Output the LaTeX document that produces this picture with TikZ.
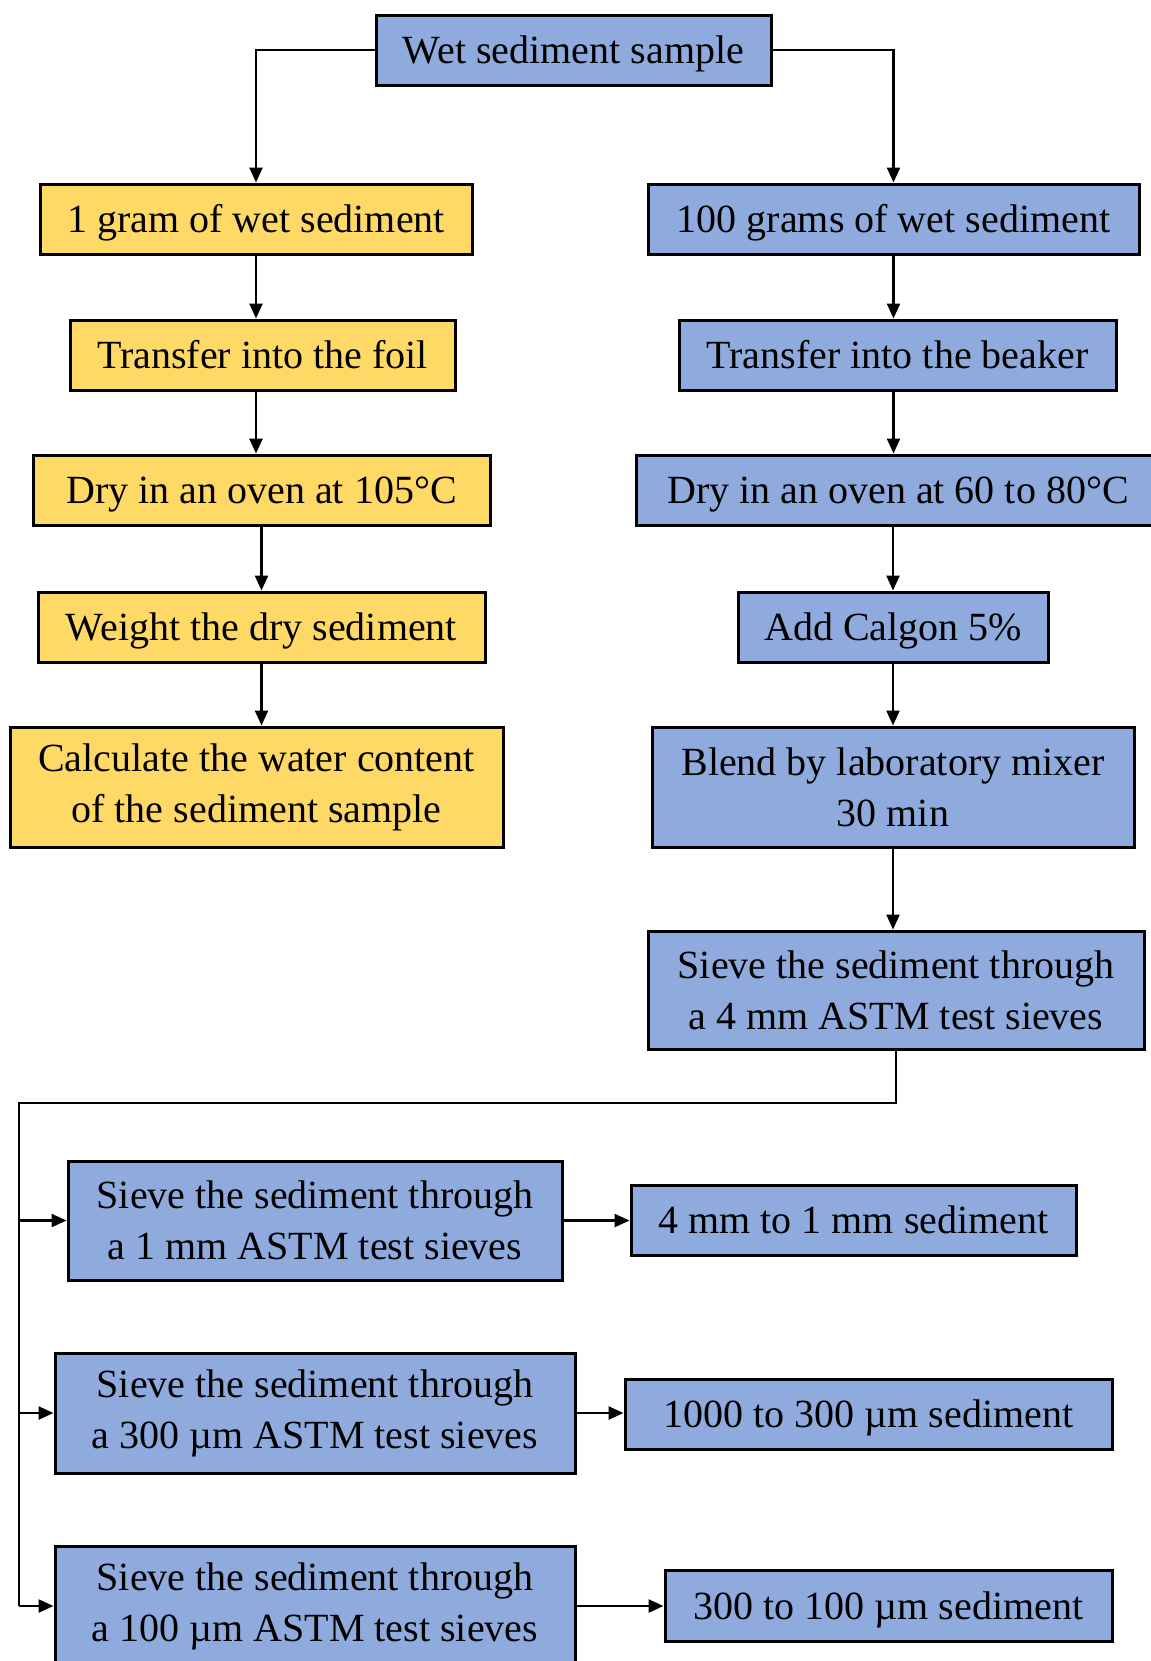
\documentclass[tikz,border=0pt]{standalone}
\usepackage{fontspec}
\setmainfont{Liberation Serif}
\usetikzlibrary{arrows.meta}
\definecolor{boxblue}{RGB}{143,170,220}
\definecolor{boxyellow}{RGB}{255,217,102}
\tikzset{
  stepbox/.style={draw=black, line width=1.5pt, inner sep=0pt, align=center,
    minimum height=35pt, font=\fontsize{20}{25.5}\selectfont},
  oneline/.style={text height=13.5pt, text depth=0pt},
  bluebox/.style={stepbox, fill=boxblue},
  yellowbox/.style={stepbox, fill=boxyellow},
  link/.style={line width=1.2pt},
  arr/.style={link, -{Triangle[length=7.5pt,width=6.5pt]}}
}
\begin{document}
\begin{tikzpicture}[x=0.5pt,y=-0.5pt]
        \useasboundingbox (0,0) rectangle (1151,1661);
        \node[bluebox, oneline, minimum width=197.5pt] (wet) at (573.5,50) {Wet sediment sample};
        % left column
        \node[yellowbox, oneline, minimum width=216pt] (gram1) at (256,219) {1 gram of wet sediment};
        \node[yellowbox, oneline, minimum width=192.5pt] (foil) at (262.5,355) {Transfer into the foil};
        \node[yellowbox, oneline, minimum width=228.5pt] (dry105) at (261.5,490) {Dry in an oven at 105°C};
        \node[yellowbox, oneline, minimum width=223.5pt] (weigh) at (261.5,627) {Weight the dry sediment};
        \node[yellowbox, minimum width=246.5pt, minimum height=60pt] (calc) at (256.5,787) {Calculate the water content\\of the sediment sample};
        % right column
        \node[bluebox, oneline, minimum width=245.5pt] (gram100) at (893.5,219) {100 grams of wet sediment};
        \node[bluebox, oneline, minimum width=218.5pt] (beaker) at (897.5,355) {Transfer into the beaker};
        \node[bluebox, oneline, minimum width=262pt] (dry60) at (898,490) {Dry in an oven at 60 to 80°C};
        \node[bluebox, oneline, minimum width=155pt] (calgon) at (893,627) {Add Calgon 5\%};
        \node[bluebox, minimum width=241pt, minimum height=60pt] (blend) at (893,787) {Blend by laboratory mixer\\30 min};
        \node[bluebox, minimum width=248pt, minimum height=59pt] (sieve4) at (896,990) {Sieve the sediment through\\a 4 mm ASTM test sieves};
        % sieving
        \node[bluebox, minimum width=247pt, minimum height=59.5pt] (sieve1) at (315,1220.5) {Sieve the sediment through\\a 1 mm ASTM test sieves};
        \node[bluebox, minimum width=260pt, minimum height=60pt] (sieve300) at (315,1413) {Sieve the sediment through\\a 300 µm ASTM test sieves};
        \node[bluebox, minimum width=260pt, minimum height=60pt] (sieve100) at (315,1606) {Sieve the sediment through\\a 100 µm ASTM test sieves};
        \node[bluebox, oneline, minimum width=222.5pt] (mm41) at (853.5,1220) {4 mm to 1 mm sediment};
        \node[bluebox, oneline, minimum width=243.5pt] (um1000) at (868.5,1414) {1000 to 300 µm sediment};
        \node[bluebox, oneline, minimum width=223.5pt, minimum height=35.5pt] (um300) at (888.5,1605.5) {300 to 100 µm sediment};
        \coordinate (bus) at (19,1103);
        \draw[arr] (wet.west) -| (gram1.north);
        \draw[arr] (wet.east) -| (gram100.north);
        \draw[arr] (gram1.south) -- (gram1.south |- foil.north);
        \draw[arr] (foil.south -| gram1.south) -- (gram1.south |- dry105.north);
        \draw[arr] (dry105.south) -- (dry105.south |- weigh.north);
        \draw[arr] (weigh.south) -- (weigh.south |- calc.north);
        \draw[arr] (gram100.south) -- (gram100.south |- beaker.north);
        \draw[arr] (beaker.south -| gram100.south) -- (gram100.south |- dry60.north);
        \draw[arr] (dry60.south -| calgon.south) -- (calgon.north);
        \draw[arr] (calgon.south) -- (calgon.south |- blend.north);
        \draw[arr] (blend.south) -- (blend.south |- sieve4.north);
        \draw[link] (sieve4.south) |- (bus) -- (bus |- sieve100.west);
        \draw[arr] (bus |- sieve1.west) -- (sieve1.west);
        \draw[arr] (bus |- sieve300.west) -- (sieve300.west);
        \draw[arr] (bus |- sieve100.west) -- (sieve100.west);
        \draw[arr] (sieve1.east) -- (sieve1.east -| mm41.west);
        \draw[arr] (sieve300.east) -- (sieve300.east -| um1000.west);
        \draw[arr] (sieve100.east) -- (sieve100.east -| um300.west);
  \end{tikzpicture}
\end{document}
